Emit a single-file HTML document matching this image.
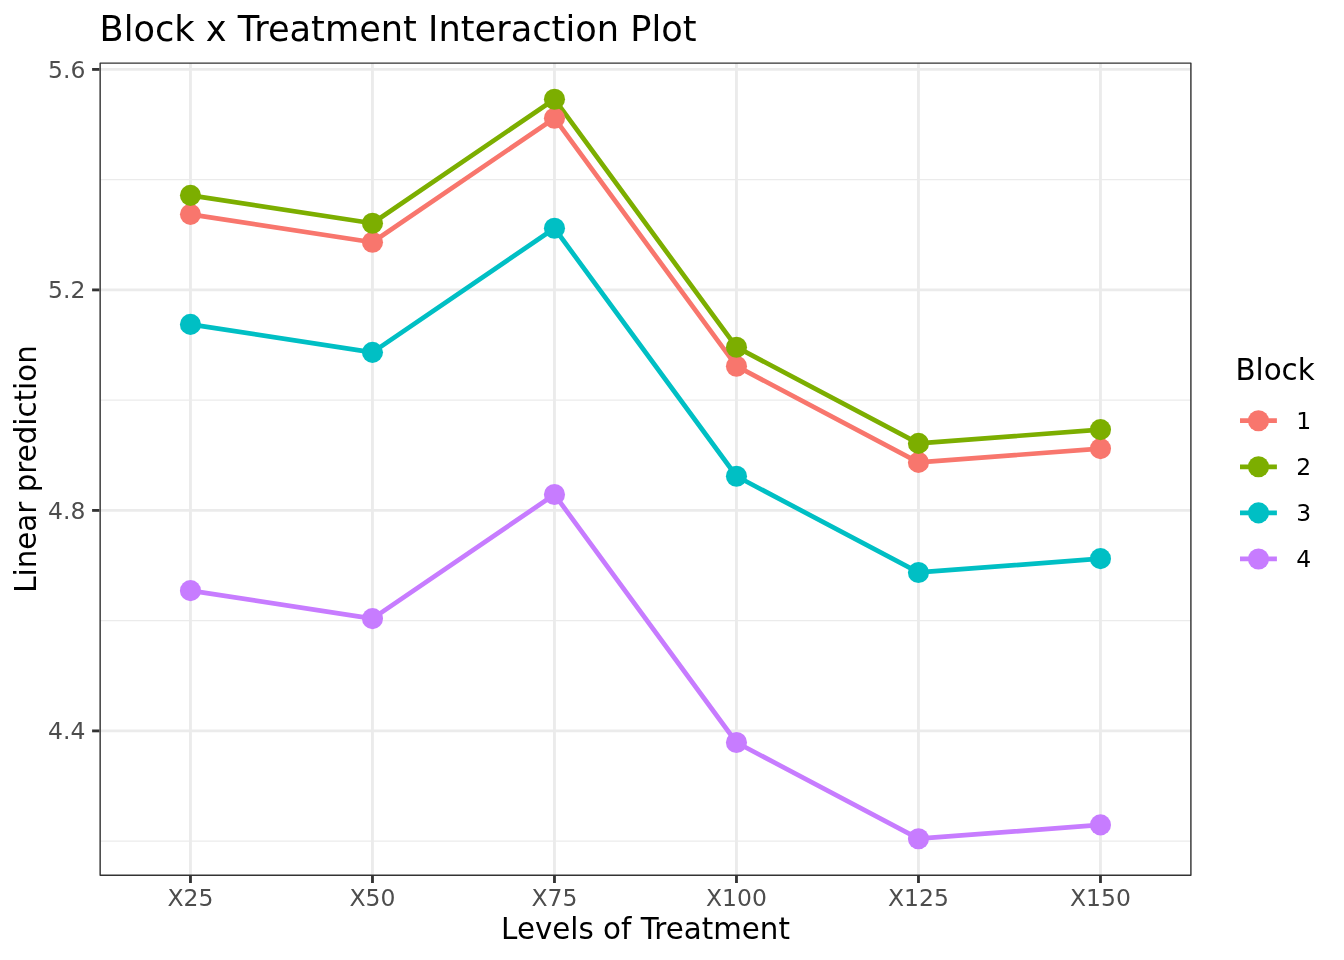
<!DOCTYPE html>
<html><head><meta charset="utf-8"><title>Block x Treatment Interaction Plot</title>
<style>
html,body{margin:0;padding:0;background:#fff;}
body{width:1344px;height:960px;overflow:hidden;}
svg{display:block;}
text{font-family:"DejaVu Sans","Liberation Sans",sans-serif;}
.ax{font-size:23.47px;fill:#4D4D4D;}
.lt{font-size:29.33px;fill:#000;}
.ll{font-size:23.47px;fill:#000;}
.ti{font-size:35.2px;fill:#000;}
</style></head><body>
<svg width="1344" height="960" viewBox="0 0 1344 960">
<rect width="1344" height="960" fill="#fff"/>
<g stroke="#EBEBEB" fill="none">
<line x1="100.15" x2="1190.9" y1="179.65" y2="179.65" stroke-width="1.42"/>
<line x1="100.15" x2="1190.9" y1="400.15" y2="400.15" stroke-width="1.42"/>
<line x1="100.15" x2="1190.9" y1="620.65" y2="620.65" stroke-width="1.42"/>
<line x1="100.15" x2="1190.9" y1="841.15" y2="841.15" stroke-width="1.42"/>
<line x1="100.15" x2="1190.9" y1="69.4" y2="69.4" stroke-width="2.84"/>
<line x1="100.15" x2="1190.9" y1="289.9" y2="289.9" stroke-width="2.84"/>
<line x1="100.15" x2="1190.9" y1="510.4" y2="510.4" stroke-width="2.84"/>
<line x1="100.15" x2="1190.9" y1="730.9" y2="730.9" stroke-width="2.84"/>
<line x1="190.47" x2="190.47" y1="63.1" y2="875.3" stroke-width="2.84"/>
<line x1="372.47" x2="372.47" y1="63.1" y2="875.3" stroke-width="2.84"/>
<line x1="554.47" x2="554.47" y1="63.1" y2="875.3" stroke-width="2.84"/>
<line x1="736.47" x2="736.47" y1="63.1" y2="875.3" stroke-width="2.84"/>
<line x1="918.47" x2="918.47" y1="63.1" y2="875.3" stroke-width="2.84"/>
<line x1="1100.47" x2="1100.47" y1="63.1" y2="875.3" stroke-width="2.84"/>
</g>
<polyline points="190.47,214.35 372.47,242.30 554.47,118.20 736.47,366.20 918.47,462.40 1100.47,448.60" fill="none" stroke="#F8766D" stroke-width="4.7" stroke-linejoin="round" stroke-linecap="butt"/>
<polyline points="190.47,195.35 372.47,223.30 554.47,99.20 736.47,347.20 918.47,443.40 1100.47,429.60" fill="none" stroke="#7CAE00" stroke-width="4.7" stroke-linejoin="round" stroke-linecap="butt"/>
<polyline points="190.47,324.40 372.47,352.35 554.47,228.25 736.47,476.25 918.47,572.45 1100.47,558.65" fill="none" stroke="#00BFC4" stroke-width="4.7" stroke-linejoin="round" stroke-linecap="butt"/>
<polyline points="190.47,590.65 372.47,618.60 554.47,494.50 736.47,742.50 918.47,838.70 1100.47,824.90" fill="none" stroke="#C77CFF" stroke-width="4.7" stroke-linejoin="round" stroke-linecap="butt"/>
<g fill="#F8766D">
<circle cx="190.47" cy="214.35" r="10.55"/>
<circle cx="372.47" cy="242.30" r="10.55"/>
<circle cx="554.47" cy="118.20" r="10.55"/>
<circle cx="736.47" cy="366.20" r="10.55"/>
<circle cx="918.47" cy="462.40" r="10.55"/>
<circle cx="1100.47" cy="448.60" r="10.55"/>
</g>
<g fill="#7CAE00">
<circle cx="190.47" cy="195.35" r="10.55"/>
<circle cx="372.47" cy="223.30" r="10.55"/>
<circle cx="554.47" cy="99.20" r="10.55"/>
<circle cx="736.47" cy="347.20" r="10.55"/>
<circle cx="918.47" cy="443.40" r="10.55"/>
<circle cx="1100.47" cy="429.60" r="10.55"/>
</g>
<g fill="#00BFC4">
<circle cx="190.47" cy="324.40" r="10.55"/>
<circle cx="372.47" cy="352.35" r="10.55"/>
<circle cx="554.47" cy="228.25" r="10.55"/>
<circle cx="736.47" cy="476.25" r="10.55"/>
<circle cx="918.47" cy="572.45" r="10.55"/>
<circle cx="1100.47" cy="558.65" r="10.55"/>
</g>
<g fill="#C77CFF">
<circle cx="190.47" cy="590.65" r="10.55"/>
<circle cx="372.47" cy="618.60" r="10.55"/>
<circle cx="554.47" cy="494.50" r="10.55"/>
<circle cx="736.47" cy="742.50" r="10.55"/>
<circle cx="918.47" cy="838.70" r="10.55"/>
<circle cx="1100.47" cy="824.90" r="10.55"/>
</g>
<rect x="100.15" y="63.1" width="1090.75" height="812.1999999999999" fill="none" stroke="#333333" stroke-width="1.42" stroke-linejoin="round"/>
<g stroke="#333333" stroke-width="2.84">
<line x1="92.1" x2="99.45" y1="69.4" y2="69.4"/>
<line x1="92.1" x2="99.45" y1="289.9" y2="289.9"/>
<line x1="92.1" x2="99.45" y1="510.4" y2="510.4"/>
<line x1="92.1" x2="99.45" y1="730.9" y2="730.9"/>
<line x1="190.47" x2="190.47" y1="876.0" y2="883.0"/>
<line x1="372.47" x2="372.47" y1="876.0" y2="883.0"/>
<line x1="554.47" x2="554.47" y1="876.0" y2="883.0"/>
<line x1="736.47" x2="736.47" y1="876.0" y2="883.0"/>
<line x1="918.47" x2="918.47" y1="876.0" y2="883.0"/>
<line x1="1100.47" x2="1100.47" y1="876.0" y2="883.0"/>
</g>
<text class="ax" x="85.4" y="77.8" text-anchor="end">5.6</text>
<text class="ax" x="85.4" y="298.3" text-anchor="end">5.2</text>
<text class="ax" x="85.4" y="518.8" text-anchor="end">4.8</text>
<text class="ax" x="85.4" y="739.3" text-anchor="end">4.4</text>
<text class="ax" x="190.47" y="906" text-anchor="middle">X25</text>
<text class="ax" x="372.47" y="906" text-anchor="middle">X50</text>
<text class="ax" x="554.47" y="906" text-anchor="middle">X75</text>
<text class="ax" x="736.47" y="906" text-anchor="middle">X100</text>
<text class="ax" x="918.47" y="906" text-anchor="middle">X125</text>
<text class="ax" x="1100.47" y="906" text-anchor="middle">X150</text>
<text class="ti" x="99.5" y="41">Block x Treatment Interaction Plot</text>
<text class="lt" x="645.5" y="939" text-anchor="middle">Levels of Treatment</text>
<text class="lt" transform="translate(36,469) rotate(-90)" text-anchor="middle">Linear prediction</text>
<text class="lt" x="1235.4" y="380">Block</text>
<line x1="1240" x2="1276.9" y1="420.70" y2="420.70" stroke="#F8766D" stroke-width="4.7"/>
<circle cx="1258.5" cy="420.70" r="10.55" fill="#F8766D"/>
<text class="ll" x="1296.2" y="429.10">1</text>
<line x1="1240" x2="1276.9" y1="466.78" y2="466.78" stroke="#7CAE00" stroke-width="4.7"/>
<circle cx="1258.5" cy="466.78" r="10.55" fill="#7CAE00"/>
<text class="ll" x="1296.2" y="475.18">2</text>
<line x1="1240" x2="1276.9" y1="512.86" y2="512.86" stroke="#00BFC4" stroke-width="4.7"/>
<circle cx="1258.5" cy="512.86" r="10.55" fill="#00BFC4"/>
<text class="ll" x="1296.2" y="521.26">3</text>
<line x1="1240" x2="1276.9" y1="558.94" y2="558.94" stroke="#C77CFF" stroke-width="4.7"/>
<circle cx="1258.5" cy="558.94" r="10.55" fill="#C77CFF"/>
<text class="ll" x="1296.2" y="567.34">4</text>
</svg></body></html>
